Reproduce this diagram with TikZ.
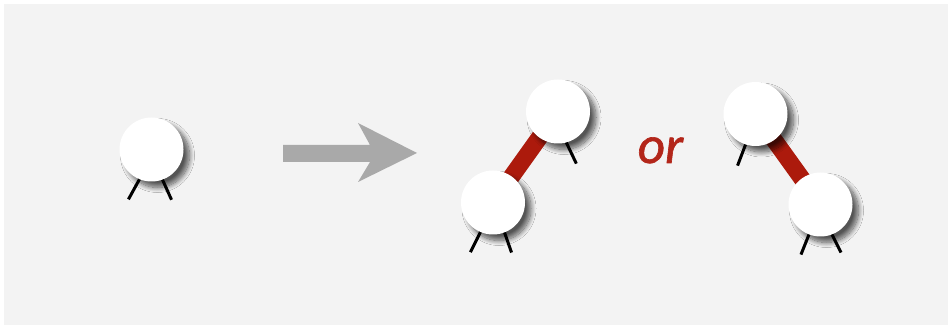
\documentclass[tikz,border=0pt]{standalone}
\usepackage{fontspec}
\newfontfamily\orfont[FakeBold=1.2]{Carlito}
\usetikzlibrary{shadows.blur,calc}
\definecolor{bggray}{HTML}{F3F3F3}
\definecolor{linkred}{HTML}{AC1A0C}
\definecolor{orred}{HTML}{B3261A}
\definecolor{arrowgray}{HTML}{A9A9A9}
\tikzset{
  treenode/.style={circle, fill=white, minimum size=64pt, inner sep=0pt,
    blur shadow={shadow xshift=6pt, shadow yshift=-6pt, shadow blur radius=5pt, shadow blur steps=12, shadow opacity=65}},
  leg/.style={draw=black, line width=3pt},
  redlink/.style={draw=linkred, line width=17pt}
}
\begin{document}
\begin{tikzpicture}[x=1pt,y=1pt]
\useasboundingbox (0,0) rectangle (948,331);
\fill[white] (0,0) rectangle (948,331);
\fill[bggray] (4,6) rectangle (948,327);
% arrow
\fill[arrowgray] (283,186) -- (370,186) -- (358,208) -- (417,178) -- (358,149) -- (370,169) -- (283,169) -- cycle;
% centres
\coordinate (sc) at (151.5,181.5);
\coordinate (ac) at (558,219.5);
\coordinate (bc) at (493,128.5);
\coordinate (cc) at (755.5,217);
\coordinate (dc) at (820.5,126.5);
% links (behind the nodes)
\draw[redlink] (ac) -- (bc);
\draw[redlink] (cc) -- (dc);
% nodes
\node[treenode] (s) at (sc) {};
\node[treenode] (a) at (ac) {};
\node[treenode] (b) at (bc) {};
\node[treenode] (c) at (cc) {};
\node[treenode] (d) at (dc) {};
% legs
\draw[leg] (s.248) -- ++(-11,-20) coordinate (s1e);
\draw[leg] (s.290) -- ++(9,-20) coordinate (s2e);
\draw[leg] (a.285) -- ++(10,-21) coordinate (a2e);
\draw[leg] (b.247) -- ++(-10,-20) coordinate (b1e);
\draw[leg] (b.291) -- ++(7,-20) coordinate (b2e);
\draw[leg] (c.252) -- ++(-8,-21) coordinate (c1e);
\draw[leg] (d.249) -- ++(-8,-20) coordinate (d1e);
\draw[leg] (d.291) -- ++(9,-18) coordinate (d2e);
% text
\node[anchor=base, inner sep=0pt, text=orred, font=\orfont\itshape\fontsize{53}{53}\selectfont] (or) at (660.5,168) {or};
\end{tikzpicture}
\end{document}
